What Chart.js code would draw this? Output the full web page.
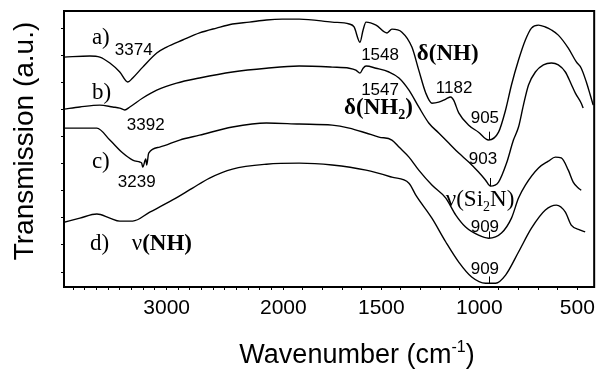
<!DOCTYPE html>
<html><head><meta charset="utf-8">
<script src="https://cdn.jsdelivr.net/npm/chart.js@4.4.1/dist/chart.umd.min.js"></script>
<style>html,body{margin:0;padding:0;background:#fff}</style>
</head><body>
<canvas id="c" width="601" height="370"></canvas>
<script>
// ---------- data ----------
const spectrumA_wn = [3880,3658,3573,3487,3402,3333,3291,3205,3085,3000,2863,2718,2573,2436,2291,2145,2010,1919,1751,1664,1639,1609,1593,1578,1527,1471,1446,1395,1344,1309,1273,1242,1207,1171,1146,1131,1105,1054,1004,953,902,866,836,800,765,734,698,663,632,597,546,505,480,454,434,419];
const spectrumA_T  = [7.93,7.97,7.93,7.71,7.38,7.01,7.16,7.56,8.08,8.30,8.56,8.82,9.00,9.15,9.22,9.30,9.33,9.33,9.22,9.15,9.04,8.48,8.93,9.22,9.11,8.82,8.96,8.85,8.30,7.45,6.60,6.23,6.27,6.38,6.46,6.34,5.87,5.42,5.16,4.87,5.16,5.98,6.90,7.82,8.56,9.00,9.11,9.04,8.93,8.74,8.26,7.75,7.52,7.01,6.53,6.16];

const spectrumB_wn = [3880,3744,3573,3462,3402,3359,3316,3205,3085,2915,2718,2436,2145,1919,1751,1664,1630,1609,1593,1578,1527,1461,1410,1359,1309,1258,1207,1156,1105,1054,1004,968,943,902,861,826,800,775,749,714,673,632,597,561,531,510,480,470];
const spectrumB_T  = [6.01,6.09,6.16,6.09,6.05,5.98,6.09,6.42,6.71,6.97,7.16,7.38,7.52,7.60,7.56,7.52,7.45,7.34,7.52,7.60,7.52,7.38,7.16,6.71,6.09,5.50,5.13,4.76,4.39,4.06,3.69,3.39,3.17,3.32,4.02,4.87,5.35,6.16,6.90,7.38,7.64,7.71,7.64,7.38,6.93,6.60,6.23,6.05];

const spectrumC_wn = [3880,3598,3487,3376,3291,3231,3214,3205,3179,3171,3154,3060,2889,2718,2436,2145,1919,1751,1664,1578,1512,1446,1410,1359,1309,1242,1171,1120,1070,1004,953,887,836,800,765,698,648,612,582,546,521,495,480];
const spectrumC_T  = [5.31,5.31,4.87,4.39,4.13,4.06,4.02,3.87,4.17,3.95,4.39,4.61,4.87,5.05,5.35,5.50,5.46,5.42,5.31,5.13,4.98,4.87,4.61,4.24,3.76,3.21,2.73,2.10,1.66,1.36,1.25,1.44,1.99,2.73,3.21,3.84,4.09,4.24,4.21,3.76,3.32,3.10,3.02];

const spectrumD_wn = [3880,3744,3598,3487,3402,3291,3145,2949,2778,2632,2436,2145,1919,1751,1578,1446,1359,1324,1242,1171,1105,1039,968,917,866,800,734,663,607,561,531,485,460];
const spectrumD_T  = [1.84,1.99,2.14,1.99,1.88,1.88,2.21,2.66,3.10,3.47,3.80,3.98,4.02,3.95,3.76,3.50,3.28,2.84,1.99,1.11,0.37,-0.18,-0.41,-0.41,-0.11,0.74,1.62,2.29,2.47,2.21,1.73,1.55,1.48];

const xTickLabels = [3000, 2000, 1500, 1000, 500];
const xTickValues = [];
for (let w = 3800; w >= 500; w -= 100) xTickValues.push(w);
const yTickValues = [0,1,2,3,4,5,6,7,8,9];

const xTitle = 'Wavenumber (cm';
const xTitleSup = '-1';
const yTitle = 'Transmission (a.u.)';

// ---------- fonts ----------
const SANS = '"Liberation Sans", Arial, sans-serif';
const SERIF = '"Liberation Serif", "Times New Roman", serif';

// annotation texts placed in data coordinates (wavenumber, transmission)
const annotations = [
  {parts:[{t:'a)'}], fam:SERIF, size:23, wn:3641, T:8.41},
  {parts:[{t:'3374'}], fam:SANS, size:17, wn:3444, T:8.00},
  {parts:[{t:'b)'}], fam:SERIF, size:23, wn:3641, T:6.38},
  {parts:[{t:'3392'}], fam:SANS, size:17, wn:3342, T:5.24},
  {parts:[{t:'c)'}], fam:SERIF, size:23, wn:3641, T:3.84},
  {parts:[{t:'3239'}], fam:SANS, size:17, wn:3419, T:3.14},
  {parts:[{t:'d)'}], fam:SERIF, size:23, wn:3658, T:0.81},
  {parts:[{t:'ν'},{t:'(NH)',bold:true}], fam:SERIF, size:23, wn:3299, T:0.81},
  {parts:[{t:'1548'}], fam:SANS, size:17, wn:1603, T:7.82},
  {parts:[{t:'δ(NH)',bold:true}], fam:SERIF, size:23, wn:1319, T:7.82},
  {parts:[{t:'1547'}], fam:SANS, size:17, wn:1603, T:6.53},
  {parts:[{t:'δ(NH',bold:true},{t:'2',bold:true,sub:true},{t:')',bold:true}], fam:SERIF, size:23, wn:1690, T:5.83},
  {parts:[{t:'1182'}], fam:SANS, size:17, wn:1222, T:6.60},
  {parts:[{t:'905'}], fam:SANS, size:17, wn:1044, T:5.50},
  {parts:[{t:'903'}], fam:SANS, size:17, wn:1054, T:3.98},
  {parts:[{t:'ν(Si'},{t:'2',sub:true},{t:'N)'}], fam:SERIF, size:23, wn:1171, T:2.43},
  {parts:[{t:'909'}], fam:SANS, size:17, wn:1044, T:1.48},
  {parts:[{t:'909'}], fam:SANS, size:17, wn:1044, T:-0.07}
];
// small marker lines at band minima
const markers = [
  {wn:953, T1:5.18, T2:4.87},
  {wn:943, T1:3.47, T2:3.17},
  {wn:953, T1:1.50, T2:1.25},
  {wn:953, T1:-0.16, T2:-0.44}
];

// ---------- custom wavenumber scale with a scale change at 2000 cm-1 ----------
class BrokenWavenumberScale extends Chart.LinearScale {
  determineDataLimits() { this.min = this.options.min; this.max = this.options.max; }
  buildTicks() { return xTickValues.map(v => ({value: v})); }
  _u(v) {
    const b = this.options.breakAt, k = this.options.breakRatio;
    return v >= b ? (this.max - v) : (this.max - b) + (b - v) * k;
  }
  getPixelForValue(v) { return this.getPixelForDecimal(this._u(v) / this._u(this.min)); }
  getValueForPixel(p) {
    const b = this.options.breakAt, k = this.options.breakRatio;
    const d = this.getDecimalForPixel(p) * this._u(this.min);
    const ub = this.max - b;
    return d <= ub ? this.max - d : b - (d - ub) / k;
  }
}
BrokenWavenumberScale.id = 'brokenWavenumber';
BrokenWavenumberScale.defaults = {};
Chart.register(BrokenWavenumberScale);

function pts(xs, ys) { return xs.map((x, i) => ({x, y: ys[i]})); }
function ds(label, xs, ys) {
  return {label, data: pts(xs, ys), borderColor:'#000', borderWidth:1.4, pointRadius:0,
          fill:false, cubicInterpolationMode:'monotone'};
}

function drawRich(ctx, x, y, parts, fam, size) {
  let cx = x;
  ctx.textAlign = 'left'; ctx.textBaseline = 'alphabetic';
  for (const p of parts) {
    const sz = p.sub ? Math.round(size * 0.62) : size;
    ctx.font = (p.bold ? 'bold ' : '') + sz + 'px ' + fam;
    const dy = p.sub ? size * 0.2 : 0;
    ctx.fillText(p.t, cx, y + dy);
    cx += ctx.measureText(p.t).width;
  }
}

const decorPlugin = {
  id: 'decor',
  afterDraw(chart) {
    const {ctx, chartArea: ca, scales: {x, y}} = chart;
    ctx.save();
    ctx.fillStyle = '#000'; ctx.strokeStyle = '#000';
    // frame
    ctx.lineWidth = 2;
    ctx.strokeRect(ca.left, ca.top, ca.right - ca.left, ca.bottom - ca.top);
    // annotations
    for (const a of annotations) {
      drawRich(ctx, x.getPixelForValue(a.wn), y.getPixelForValue(a.T), a.parts, a.fam, a.size);
    }
    ctx.lineWidth = 1;
    for (const m of markers) {
      const px = Math.round(x.getPixelForValue(m.wn)) + 0.5;
      ctx.beginPath();
      ctx.moveTo(px, y.getPixelForValue(m.T1));
      ctx.lineTo(px, y.getPixelForValue(m.T2));
      ctx.stroke();
    }
    // axis titles
    ctx.textBaseline = 'alphabetic';
    ctx.font = '27px ' + SANS;
    const w1 = ctx.measureText(xTitle).width;
    ctx.font = '16px ' + SANS;
    const w2 = ctx.measureText(xTitleSup).width;
    ctx.font = '27px ' + SANS;
    const w3 = ctx.measureText(')').width;
    const total = w1 + w2 + w3;
    let sx = ca.left + 293 - total / 2;
    const by = ca.bottom + 76;
    ctx.textAlign = 'left';
    ctx.fillText(xTitle, sx, by);
    ctx.font = '16px ' + SANS;
    ctx.fillText(xTitleSup, sx + w1, by - 11);
    ctx.font = '27px ' + SANS;
    ctx.fillText(')', sx + w1 + w2, by);

    ctx.translate(33, ca.top + 130);
    ctx.rotate(-Math.PI / 2);
    ctx.font = '28px ' + SANS;
    ctx.textAlign = 'center';
    ctx.fillText(yTitle, 0, 0);
    ctx.restore();
  }
};

new Chart(document.getElementById('c'), {
  type: 'line',
  data: {datasets: [
    ds('a', spectrumA_wn, spectrumA_T),
    ds('b', spectrumB_wn, spectrumB_T),
    ds('c', spectrumC_wn, spectrumC_T),
    ds('d', spectrumD_wn, spectrumD_T)
  ]},
  options: {
    responsive: false,
    animation: false,
    devicePixelRatio: 1,
    layout: {padding: {top: 11, right: 5, left: 0, bottom: 0}},
    plugins: {legend: {display: false}, tooltip: {enabled: false}},
    scales: {
      x: {
        type: 'brokenWavenumber',
        min: 414, max: 3880, breakAt: 2000, breakRatio: 1.68,
        afterFit: s => { s.height = 83; },
        border: {display: true, color: '#000', width: 2},
        grid: {display: true, drawOnChartArea: false, drawTicks: true, tickLength: 3, color: '#000', lineWidth: 1},
        ticks: {
          autoSkip: false, maxRotation: 0, padding: 6, color: '#000',
          font: {family: SANS, size: 21},
          callback: v => xTickLabels.includes(v) ? String(v) : ''
        }
      },
      y: {
        type: 'linear', min: -0.55, max: 9.63,
        afterBuildTicks: s => { s.ticks = yTickValues.map(v => ({value: v})); },
        afterFit: s => { s.width = 64; },
        border: {display: true, color: '#000', width: 2},
        grid: {display: true, drawOnChartArea: false, drawTicks: true, tickLength: 3, color: '#000', lineWidth: 1},
        ticks: {display: false}
      }
    }
  },
  plugins: [decorPlugin]
});
</script>
</body></html>
